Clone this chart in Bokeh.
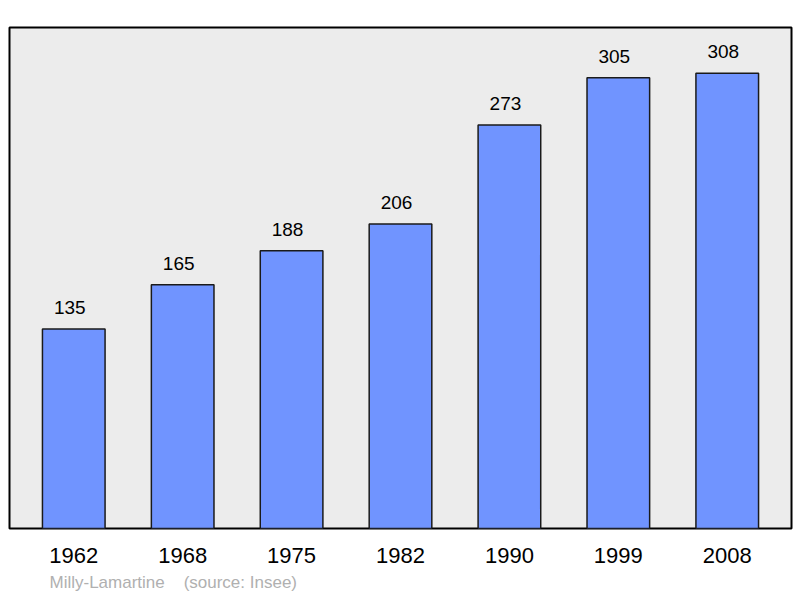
from bokeh.plotting import figure
from bokeh.models import Range1d, FactorRange, ColumnDataSource, Title
from bokeh.core.properties import value
from bokeh.embed import file_html
from bokeh.resources import INLINE

years = ["1962", "1968", "1975", "1982", "1990", "1999", "2008"]
population = [135, 165, 188, 206, 273, 305, 308]
commune = "Milly-Lamartine"
source_note = "(source: Insee)"

FONT = "Liberation Sans"

src = ColumnDataSource(dict(x=years, top=population, label=[str(v) for v in population]))

p = figure(
    width=800, height=598,
    x_range=FactorRange(*years, range_padding=0.09, range_padding_units="absolute"),
    y_range=Range1d(0, 339),
    output_backend="svg", toolbar_location=None, tools="",
    min_border_left=9, min_border_right=9, min_border_top=27, min_border_bottom=70,
    background_fill_color="#ececec", border_fill_color="white",
)
p.outline_line_color = "black"
p.outline_line_width = 2
p.grid.visible = False
p.yaxis.visible = False

p.vbar(x="x", top="top", width=0.575, source=src,
       fill_color="#7094ff", line_color="#1a1a1a", line_width=1.5)
p.text(x="x", y="top", text="label", source=src, x_offset=-4, y_offset=-15,
       text_align="center", text_baseline="bottom",
       text_font=value(FONT), text_font_size="19px", text_color="black")

ax = p.xaxis[0]
ax.axis_line_color = None
ax.major_tick_line_color = None
ax.minor_tick_line_color = None
ax.major_tick_out = 0
ax.major_tick_in = 0
ax.major_label_standoff = 19
ax.major_label_text_font = FONT
ax.major_label_text_font_size = "22px"
ax.major_label_text_color = "black"

footer = Title(text=commune + "\u00a0" * 4 + source_note, align="left", offset=40, standoff=10,
               text_font=FONT, text_font_size="17px", text_font_style="normal",
               text_color="#b0b0b0")
p.add_layout(footer, "below")

open("out.html", "w").write(file_html(p, INLINE))
